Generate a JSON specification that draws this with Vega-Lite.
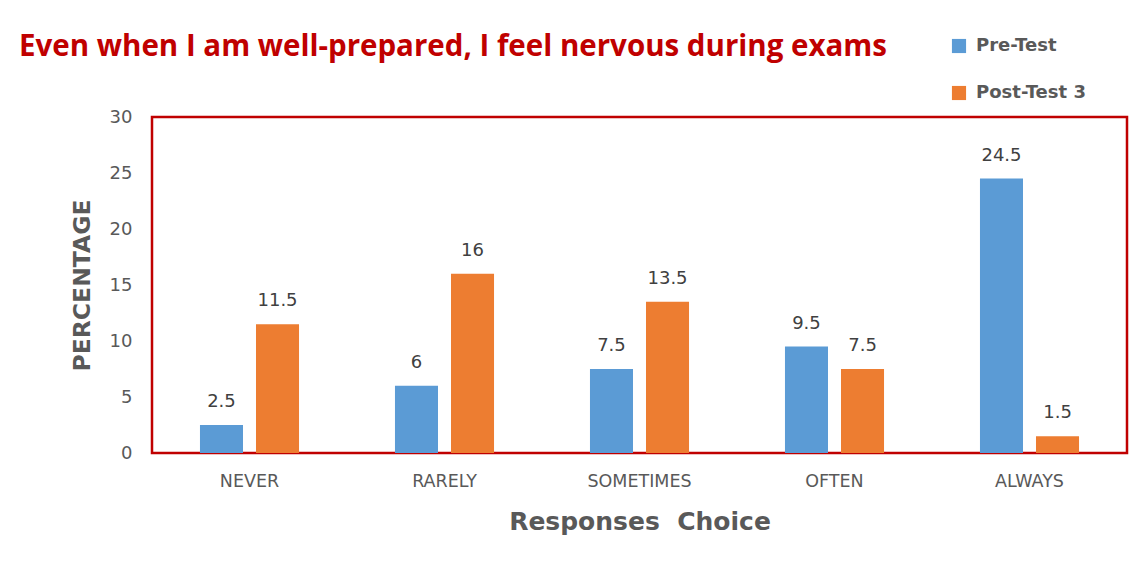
{
  "$schema": "https://vega.github.io/schema/vega-lite/v6.json",
  "width": 975,
  "height": 336,
  "autosize": "none",
  "padding": {"left": 152, "top": 117, "right": 12, "bottom": 109},
  "background": "white",
  "title": {
    "text": "Even when I am well-prepared, I feel nervous during exams",
    "anchor": "start",
    "frame": "group",
    "color": "#C00000",
    "font": "Open Sans",
    "fontSize": 29.5,
    "fontWeight": "bold",
    "dx": -133,
    "dy": 25,
    "offset": 0
  },
  "data": {
    "values": [
      {"choice": "NEVER", "series": "Pre-Test", "value": 2.5},
      {"choice": "NEVER", "series": "Post-Test 3", "value": 11.5},
      {"choice": "RARELY", "series": "Pre-Test", "value": 6},
      {"choice": "RARELY", "series": "Post-Test 3", "value": 16},
      {"choice": "SOMETIMES", "series": "Pre-Test", "value": 7.5},
      {"choice": "SOMETIMES", "series": "Post-Test 3", "value": 13.5},
      {"choice": "OFTEN", "series": "Pre-Test", "value": 9.5},
      {"choice": "OFTEN", "series": "Post-Test 3", "value": 7.5},
      {"choice": "ALWAYS", "series": "Pre-Test", "value": 24.5},
      {"choice": "ALWAYS", "series": "Post-Test 3", "value": 1.5}
    ]
  },
  "encoding": {
    "x": {
      "field": "choice",
      "type": "nominal",
      "sort": ["NEVER", "RARELY", "SOMETIMES", "OFTEN", "ALWAYS"],
      "scale": {"paddingInner": 0.492, "paddingOuter": 0.246},
      "axis": {
        "title": "Responses \u00a0Choice",
        "titleFont": "DejaVu Sans",
        "titleFontSize": 25,
        "titleFontWeight": "bold",
        "titleColor": "#595959",
        "titlePadding": 20,
        "labelFont": "DejaVu Sans",
        "labelFontSize": 17.5,
        "labelColor": "#595959",
        "labelAngle": 0,
        "labelPadding": 19,
        "domain": false,
        "ticks": false,
        "grid": false
      }
    },
    "xOffset": {
      "field": "series",
      "type": "nominal",
      "sort": ["Pre-Test", "Post-Test 3"],
      "scale": {"paddingInner": 0.232, "paddingOuter": 0}
    },
    "y": {
      "field": "value",
      "type": "quantitative",
      "scale": {"domain": [0, 30]},
      "axis": {
        "title": "PERCENTAGE",
        "titleFont": "DejaVu Sans",
        "titleFontSize": 23.5,
        "titleFontWeight": "bold",
        "titleColor": "#595959",
        "titlePadding": 15,
        "values": [0, 5, 10, 15, 20, 25, 30],
        "labelFont": "DejaVu Sans",
        "labelFontSize": 18,
        "labelColor": "#595959",
        "labelPadding": 20,
        "domain": false,
        "ticks": false,
        "grid": false
      }
    }
  },
  "layer": [
    {
      "mark": {"type": "bar"},
      "encoding": {
        "color": {
          "field": "series",
          "type": "nominal",
          "sort": ["Pre-Test", "Post-Test 3"],
          "scale": {"domain": ["Pre-Test", "Post-Test 3"], "range": ["#5B9BD5", "#ED7D31"]},
          "legend": {
            "title": null,
            "orient": "none",
            "legendX": 798,
            "legendY": -80,
            "direction": "vertical",
            "symbolType": "square",
            "symbolSize": 200,
            "symbolStrokeWidth": 0,
            "symbolOpacity": 1,
            "rowPadding": 29,
            "labelFont": "DejaVu Sans",
            "labelFontSize": 18,
            "labelFontWeight": "bold",
            "labelColor": "#595959",
            "labelOffset": 8
          }
        }
      }
    },
    {
      "mark": {"type": "text", "dy": -14, "baseline": "bottom", "font": "DejaVu Sans", "fontSize": 18, "color": "#404040"},
      "encoding": {
        "text": {"field": "value", "type": "quantitative"}
      }
    }
  ],
  "config": {
    "view": {"stroke": "#C00000", "strokeWidth": 2.5}
  }
}
